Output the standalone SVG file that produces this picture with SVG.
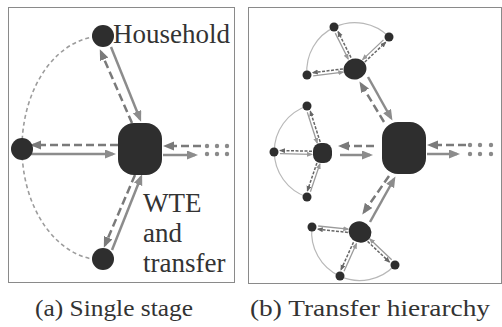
<svg xmlns="http://www.w3.org/2000/svg" width="502" height="327" viewBox="0 0 502 327">
<style>
.panel{fill:#fff;stroke:#8a8a8a;stroke-width:1}
.node{fill:#2e2e2e}
.sol{fill:none;stroke:#8c8c8c;stroke-width:2.5}
.das{fill:none;stroke:#7a7a7a;stroke-width:2.5;stroke-dasharray:8 4}
.ssol{fill:none;stroke:#9a9a9a;stroke-width:1.3}
.sdas{fill:none;stroke:#666;stroke-width:1.5;stroke-dasharray:3 1.5}
.arcA{fill:none;stroke:#9c9c9c;stroke-width:1.6;stroke-dasharray:4 3}
.arcB{fill:none;stroke:#b8b8b8;stroke-width:1.2}
.dot{fill:#8a8a8a}
.lbl{fill:#333}
</style>
<defs>
<marker id="ah" markerUnits="userSpaceOnUse" markerWidth="12" markerHeight="10" refX="8" refY="4.5" orient="auto" viewBox="0 0 12 10"><path d="M0,0 L11,4.5 L0,9 z" fill="#8c8c8c"/></marker>
<marker id="ahd" markerUnits="userSpaceOnUse" markerWidth="12" markerHeight="10" refX="8" refY="4.5" orient="auto" viewBox="0 0 12 10"><path d="M0,0 L11,4.5 L0,9 z" fill="#7a7a7a"/></marker>
<marker id="sh" markerUnits="userSpaceOnUse" markerWidth="7" markerHeight="6" refX="5" refY="2.5" orient="auto" viewBox="0 0 7 6"><path d="M0,0 L6,2.5 L0,5 z" fill="#999"/></marker>
<marker id="shd" markerUnits="userSpaceOnUse" markerWidth="7" markerHeight="6" refX="5" refY="2.5" orient="auto" viewBox="0 0 7 6"><path d="M0,0 L6,2.5 L0,5 z" fill="#666"/></marker>
</defs>

<rect class="panel" x="8.5" y="7.5" width="226" height="275"/>
<rect class="panel" x="248.5" y="7.5" width="253" height="276"/>

<g id="connectors">
<path class="arcA" d="M103 36 A81 112 0 0 0 103 260"/>
<line class="sol" x1="111" y1="47" x2="140" y2="119" marker-end="url(#ah)"/>
<line class="das" x1="132" y1="123" x2="101" y2="52" marker-end="url(#ahd)"/>
<line class="das" x1="118" y1="145" x2="33" y2="145" marker-end="url(#ahd)"/>
<line class="sol" x1="30" y1="154" x2="113" y2="154" marker-end="url(#ah)"/>
<line class="das" x1="135" y1="175" x2="105" y2="245" marker-end="url(#ahd)"/>
<line class="sol" x1="112" y1="250" x2="141" y2="177" marker-end="url(#ah)"/>
<line class="das" x1="201" y1="146" x2="166" y2="146" marker-end="url(#ahd)"/>
<line class="sol" x1="163" y1="155" x2="195" y2="155" marker-end="url(#ah)"/>
<line class="sol" x1="368" y1="77" x2="391" y2="118" marker-end="url(#ah)"/>
<line class="das" x1="384" y1="122" x2="361" y2="84" marker-end="url(#ahd)"/>
<line class="das" x1="374" y1="146" x2="341" y2="146" marker-end="url(#ahd)"/>
<line class="sol" x1="340" y1="155" x2="370" y2="155" marker-end="url(#ah)"/>
<line class="das" x1="389" y1="176" x2="364" y2="212" marker-end="url(#ahd)"/>
<line class="sol" x1="370" y1="222" x2="394" y2="179" marker-end="url(#ah)"/>
<line class="das" x1="466" y1="145" x2="430" y2="145" marker-end="url(#ahd)"/>
<line class="sol" x1="427" y1="154" x2="457" y2="154" marker-end="url(#ah)"/>
<path class="arcB" d="M389 37 A48 48 0 0 0 307 75"/>
<path class="arcB" d="M307 106 A48 48 0 0 0 307 197"/>
<path class="arcB" d="M312 227 A48 48 0 0 0 395 265"/>
<line class="sdas" x1="351" y1="57.6" x2="338.1" y2="31.7" marker-end="url(#shd)"/>
<line class="ssol" x1="335.3" y1="33.1" x2="348.2" y2="59" marker-end="url(#sh)"/>
<line class="sdas" x1="364.8" y1="62" x2="385.7" y2="42.3" marker-end="url(#shd)"/>
<line class="ssol" x1="383.5" y1="39.9" x2="362.6" y2="59.6" marker-end="url(#sh)"/>
<line class="sdas" x1="342.9" y1="68.9" x2="312.8" y2="72.7" marker-end="url(#shd)"/>
<line class="ssol" x1="313.2" y1="75.9" x2="343.3" y2="72.1" marker-end="url(#sh)"/>
<line class="sdas" x1="320.2" y1="142" x2="310.3" y2="111.2" marker-end="url(#shd)"/>
<line class="ssol" x1="307.3" y1="112.2" x2="317.2" y2="143" marker-end="url(#sh)"/>
<line class="sdas" x1="312" y1="151.2" x2="280" y2="150.5" marker-end="url(#shd)"/>
<line class="ssol" x1="280" y1="153.7" x2="312" y2="154.4" marker-end="url(#sh)"/>
<line class="sdas" x1="316.9" y1="162.9" x2="307.4" y2="190.8" marker-end="url(#shd)"/>
<line class="ssol" x1="310.4" y1="191.8" x2="319.9" y2="163.9" marker-end="url(#sh)"/>
<line class="sdas" x1="347.9" y1="232.4" x2="317.8" y2="229.2" marker-end="url(#shd)"/>
<line class="ssol" x1="318.2" y1="226" x2="348.3" y2="229.2" marker-end="url(#sh)"/>
<line class="sdas" x1="353.5" y1="242.2" x2="341" y2="269.8" marker-end="url(#shd)"/>
<line class="ssol" x1="344" y1="271.2" x2="356.5" y2="243.6" marker-end="url(#sh)"/>
<line class="sdas" x1="367.6" y1="241.4" x2="389.5" y2="262.1" marker-end="url(#shd)"/>
<line class="ssol" x1="391.7" y1="259.7" x2="369.8" y2="239" marker-end="url(#sh)"/>
</g>

<g id="a-household"><circle class="node" cx="103" cy="36" r="11"/><text class="lbl" x="113" y="43" font-size="27" font-family="Liberation Serif, serif">Household</text></g>
<g id="a-left"><circle class="node" cx="22" cy="149" r="11"/></g>
<g id="a-bottom"><circle class="node" cx="103" cy="259" r="11"/></g>
<g id="a-wte"><rect class="node" x="118" y="123" width="44" height="52" rx="16"/>
<text class="lbl" x="143" y="212" font-size="27" font-family="Liberation Serif, serif">WTE</text>
<text class="lbl" x="143" y="242" font-size="27" font-family="Liberation Serif, serif">and</text>
<text class="lbl" x="143" y="272" font-size="27" font-family="Liberation Serif, serif">transfer</text></g>
<g id="a-more"><circle class="dot" cx="207" cy="146" r="2.2"/><circle class="dot" cx="217" cy="146" r="2.2"/><circle class="dot" cx="227" cy="146" r="2.2"/><circle class="dot" cx="207" cy="154" r="2.2"/><circle class="dot" cx="217" cy="154" r="2.2"/><circle class="dot" cx="227" cy="154" r="2.2"/></g>

<g id="b-center"><rect class="node" x="382" y="122" width="44" height="52" rx="16"/></g>
<g id="b-more"><circle class="dot" cx="470" cy="145" r="2.2"/><circle class="dot" cx="480" cy="145" r="2.2"/><circle class="dot" cx="491" cy="145" r="2.2"/><circle class="dot" cx="470" cy="154" r="2.2"/><circle class="dot" cx="480" cy="154" r="2.2"/><circle class="dot" cx="491" cy="154" r="2.2"/></g>
<g id="b-top-hub"><ellipse class="node" cx="355" cy="69" rx="11.5" ry="10.5" transform="rotate(-15 355 69)"/></g>
<g id="b-top-leaf1"><circle class="node" cx="334" cy="27" r="4.5"/></g>
<g id="b-top-leaf2"><circle class="node" cx="389" cy="37" r="4.5"/></g>
<g id="b-top-leaf3"><circle class="node" cx="307" cy="75" r="4.5"/></g>
<g id="b-mid-hub"><rect class="node" x="313" y="143" width="19" height="20" rx="8"/></g>
<g id="b-mid-leaf1"><circle class="node" cx="307" cy="106" r="4.5"/></g>
<g id="b-mid-leaf2"><circle class="node" cx="274" cy="152" r="4.5"/></g>
<g id="b-mid-leaf3"><circle class="node" cx="307" cy="197" r="4.5"/></g>
<g id="b-bot-hub"><ellipse class="node" cx="360" cy="232" rx="11.5" ry="10.5" transform="rotate(20 360 232)"/></g>
<g id="b-bot-leaf1"><circle class="node" cx="312" cy="227" r="4.5"/></g>
<g id="b-bot-leaf2"><circle class="node" cx="340" cy="276" r="4.5"/></g>
<g id="b-bot-leaf3"><circle class="node" cx="395" cy="265" r="4.5"/></g>

<g id="captions">
<text class="lbl" x="35" y="316" font-size="23" font-family="Liberation Serif, serif" textLength="158" lengthAdjust="spacingAndGlyphs" fill="#3a3a3a">(a) Single stage</text>
<text class="lbl" x="250" y="316" font-size="23" font-family="Liberation Serif, serif" textLength="240" lengthAdjust="spacingAndGlyphs" fill="#3a3a3a">(b) Transfer hierarchy</text>
</g>
</svg>
